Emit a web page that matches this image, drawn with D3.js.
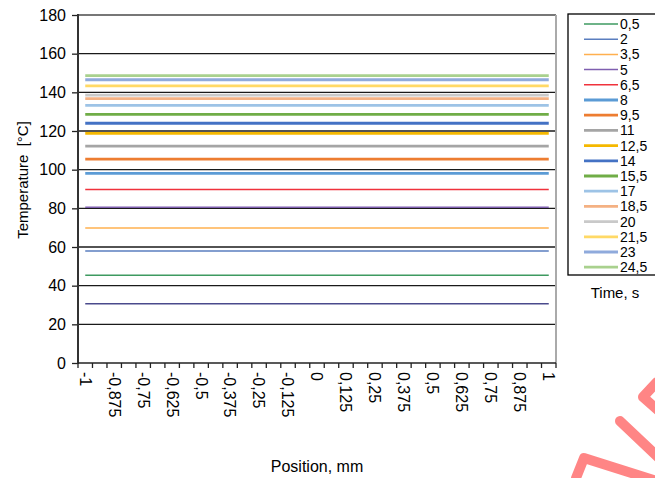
<!DOCTYPE html>
<html>
<head>
<meta charset="utf-8">
<script src="https://cdn.jsdelivr.net/npm/d3@7"></script>
<style>
  body { margin: 0; background: #fff; }
  svg text { font-family: "Liberation Sans", Arial, sans-serif; fill: #000; }
</style>
</head>
<body>
<div id="chart"></div>
<script>
let w = 655;
let h = 478;

// categories on the x axis (mm)
const positions = [-1, -0.9375, -0.875, -0.8125, -0.75, -0.6875, -0.625, -0.5625, -0.5,
  -0.4375, -0.375, -0.3125, -0.25, -0.1875, -0.125, -0.0625, 0, 0.0625, 0.125, 0.1875,
  0.25, 0.3125, 0.375, 0.4375, 0.5, 0.5625, 0.625, 0.6875, 0.75, 0.8125, 0.875, 0.9375, 1];

// time of each series (s), first one has no legend entry
const times = ["0", "0,5", "2", "3,5", "5", "6,5", "8", "9,5", "11", "12,5", "14", "15,5", "17", "18,5", "20", "21,5", "23", "24,5"];
// temperature of each series, same at every position
const temps = [30.7, 45.4, 57.9, 69.8, 80.5, 89.8, 98.1, 105.5, 112.2, 118.8, 124, 128.6, 133.3, 136.7, 138.6, 143.3, 146.5, 148.6];
const colors = ["#4a4a8c", "#3e9a60", "#5a7ebf", "#ffb04f", "#7f5fb0", "#f0323c", "#5b9bd5", "#ed7d31",
  "#a5a5a5", "#f5b800", "#4472c4", "#70ad47", "#9dc3e6", "#f4b183", "#c9c9c9", "#ffd966", "#8faadc", "#a9d18e"];
const showInLegend = [false, true, true, true, true, true, true, true, true, true, true, true, true, true, true, true, true, true];

const yTicks = [0, 20, 40, 60, 80, 100, 120, 140, 160, 180];

const pLeft = 78, pRight = 556, pTop = 15, pBottom = 363;

const svg = d3.select("#chart").append("svg").attr("width", w).attr("height", h)
  .attr("font-family", "Liberation Sans, Arial, sans-serif");

const x = d3.scaleBand().domain(positions).range([pLeft, pRight]).padding(0);
const y = d3.scaleLinear().domain([0, 180]).range([pBottom, pTop]);

// gridlines
svg.append("g")
  .selectAll("line")
  .data(yTicks.filter(d => d > 0))
  .join("line")
  .attr("x1", pLeft).attr("x2", pRight)
  .attr("y1", d => y(d)).attr("y2", d => y(d))
  .attr("stroke", d => d === 180 ? "#777" : "#1a1a1a")
  .attr("stroke-width", d => d === 180 ? 2 : 1.3);

// right border of plot area
svg.append("line")
  .attr("x1", pRight).attr("x2", pRight).attr("y1", pTop).attr("y2", pBottom)
  .attr("stroke", "#aaa").attr("stroke-width", 2);

// series lines
const series = times.map((t, i) => ({
  time: t,
  color: colors[i],
  thick: i >= 6,
  values: positions.map(p => ({ p: p, v: temps[i] }))
}));

const line = d3.line()
  .x(d => x(d.p) + x.bandwidth() / 2)
  .y(d => y(d.v));

svg.append("g")
  .selectAll("path")
  .data(series)
  .join("path")
  .attr("d", d => line(d.values))
  .attr("fill", "none")
  .attr("stroke", d => d.color)
  .attr("stroke-width", d => d.thick ? 2.8 : 1.5);

// y axis
const yAxis = svg.append("g")
  .attr("transform", "translate(" + pLeft + ",0)")
  .call(d3.axisLeft(y).tickValues(yTicks).tickSize(6).tickPadding(6).tickFormat(d3.format("d")));
yAxis.attr("font-family", null).attr("font-size", null);
yAxis.select(".domain").remove();
yAxis.selectAll(".tick line").attr("stroke", "#222").attr("stroke-width", 1.3);
yAxis.selectAll(".tick text").style("font-size", "16px");
svg.append("line")
  .attr("x1", pLeft).attr("x2", pLeft).attr("y1", pTop - 1).attr("y2", pBottom + 1)
  .attr("stroke", "#333").attr("stroke-width", 2);

// x axis: ticks between categories, labels every other one
const xg = svg.append("g");
const bounds = positions.map(p => x(p)).concat([pRight]);
xg.selectAll("line.tk")
  .data(bounds)
  .join("line")
  .attr("class", "tk")
  .attr("x1", d => d).attr("x2", d => d)
  .attr("y1", pBottom).attr("y2", pBottom + 5)
  .attr("stroke", "#222").attr("stroke-width", 1.3);
xg.append("line")
  .attr("x1", pLeft).attr("x2", pRight).attr("y1", pBottom).attr("y2", pBottom)
  .attr("stroke", "#222").attr("stroke-width", 1.6);
xg.selectAll("text")
  .data(positions.filter((p, i) => i % 2 === 0))
  .join("text")
  .attr("transform", d => "translate(" + (x(d) + x.bandwidth() / 2) + "," + (pBottom + 9) + ") rotate(90)")
  .attr("dy", "0.35em")
  .style("font-size", "16px")
  .text(d => String(d).replace(".", ","));

// axis titles
svg.append("text")
  .attr("transform", "translate(28,180) rotate(-90)")
  .attr("text-anchor", "middle")
  .style("font-size", "15px")
  .text("Temperature\u00a0\u00a0[°C]");
svg.append("text")
  .attr("x", 317).attr("y", 472)
  .attr("text-anchor", "middle")
  .style("font-size", "16px")
  .text("Position, mm");

// legend
const legendItems = series.filter((s, i) => showInLegend[i]);
svg.append("rect")
  .attr("x", 568).attr("y", 14).attr("width", 100).attr("height", 261)
  .attr("fill", "none").attr("stroke", "#000").attr("stroke-width", 1.3);
const lg = svg.append("g")
  .selectAll("g")
  .data(legendItems)
  .join("g")
  .attr("transform", (d, i) => "translate(0," + (24 + i * 15.2) + ")");
lg.append("line")
  .attr("x1", 584).attr("x2", 618)
  .attr("stroke", d => d.color)
  .attr("stroke-width", d => d.thick ? 2.8 : 1.5);
lg.append("text")
  .attr("x", 620).attr("dy", "0.36em")
  .style("font-size", "14px")
  .text(d => d.time);
svg.append("text")
  .attr("x", 615).attr("y", 298)
  .attr("text-anchor", "middle")
  .style("font-size", "15px")
  .text("Time, s");

// watermark strokes in the corner
const mark = svg.append("g")
  .attr("fill", "none").attr("stroke", "#ff8585")
  .attr("stroke-width", 10).attr("stroke-linecap", "round").attr("stroke-linejoin", "round");
mark.append("path").attr("d", "M657,382 L643,397 L660,412");
mark.append("path").attr("d", "M620,421 L660,459");
mark.append("path").attr("d", "M576,478 L584,458 L660,482");
</script>
</body>
</html>
